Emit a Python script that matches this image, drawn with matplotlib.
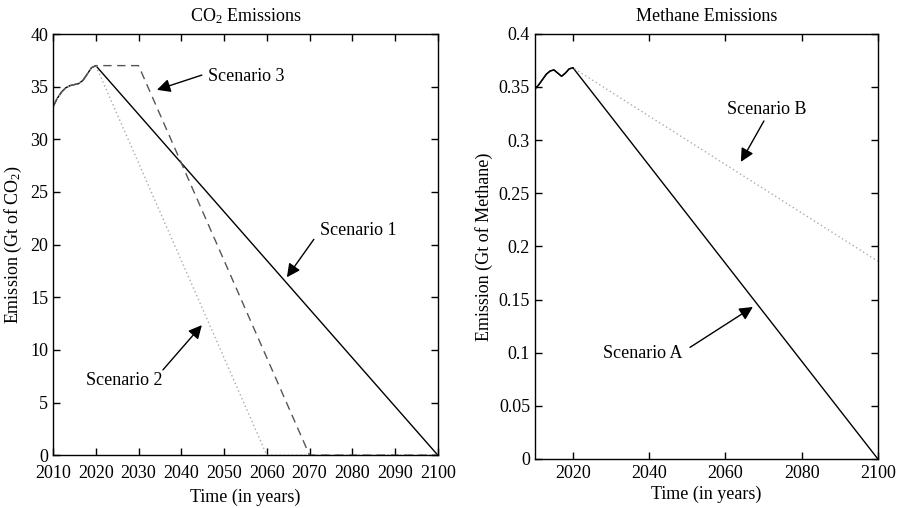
import numpy as np
import matplotlib.pyplot as plt
from matplotlib.ticker import FormatStrFormatter

plt.rcParams['font.family'] = ['Liberation Serif', 'DejaVu Serif']
plt.rcParams['mathtext.fontset'] = 'custom'
plt.rcParams['mathtext.rm'] = 'Liberation Serif'
plt.rcParams['mathtext.it'] = 'Liberation Serif:italic'
plt.rcParams['font.size'] = 13

# historical part (shared by all scenarios)
hist_years = [2010, 2011, 2012, 2013, 2014, 2015, 2016, 2017, 2018, 2019, 2020]
co2_hist = [33.1, 33.9, 34.5, 34.9, 35.1, 35.2, 35.3, 35.6, 36.2, 36.8, 37.0]
ch4_hist = [0.348, 0.352, 0.357, 0.362, 0.365, 0.366, 0.363, 0.360, 0.363, 0.367, 0.368]

# CO2 scenarios after 2020
s1_years, s1_vals = [2100], [0.0]
s2_years, s2_vals = [2060, 2100], [0.0, 0.0]
s3_years, s3_vals = [2030, 2070, 2100], [37.0, 0.0, 0.0]

# methane scenarios after 2020
sa_years, sa_vals = [2100], [0.0]
sb_years, sb_vals = [2100], [0.186]

fig = plt.figure(figsize=(8.99, 5.08), dpi=100)
ax1 = fig.add_axes([0.059, 0.104, 0.428, 0.829])
ax2 = fig.add_axes([0.595, 0.0965, 0.3815, 0.837])

# --- CO2 ---
ax1.plot(hist_years + s1_years, co2_hist + s1_vals, color='black', lw=1.0)
ax1.plot(hist_years + s2_years, co2_hist + s2_vals, color='#aaaaaa', lw=1.0, linestyle=(0, (1, 2)))
ax1.plot(hist_years + s3_years, co2_hist + s3_vals, color='#555555', lw=1.0, linestyle=(0, (6, 4)))

ax1.set_xlim(2010, 2100)
ax1.set_ylim(0, 40)
ax1.set_xticks(np.arange(2010, 2101, 10))
ax1.set_yticks(np.arange(0, 41, 5))
ax1.set_title('CO$_2$ Emissions', fontsize=13, pad=9)
ax1.set_xlabel('Time (in years)', labelpad=5)
ax1.set_ylabel('Emission (Gt of CO$_2$)')

arrow = dict(arrowstyle='-|>', color='black', lw=1.0, mutation_scale=20, shrinkA=0, shrinkB=0)
ax1.annotate('', xy=(2034.3, 34.7), xytext=(2044.8, 36.1), arrowprops=arrow)
ax1.text(2046.2, 36.0, 'Scenario 3', ha='left', va='center')
ax1.annotate('', xy=(2044.8, 12.35), xytext=(2035.7, 8.1), arrowprops=arrow)
ax1.text(2017.7, 7.1, 'Scenario 2', ha='left', va='center')
ax1.annotate('', xy=(2064.7, 16.9), xytext=(2071.0, 20.5), arrowprops=arrow)
ax1.text(2072.4, 21.3, 'Scenario 1', ha='left', va='center')

# --- Methane ---
ax2.plot(hist_years + sa_years, ch4_hist + sa_vals, color='black', lw=1.0)
ax2.plot(hist_years + sb_years, ch4_hist + sb_vals, color='#aaaaaa', lw=1.0, linestyle=(0, (1, 2)))
ax2.plot(hist_years, ch4_hist, color='black', lw=1.0)

ax2.set_xlim(2010, 2100)
ax2.set_ylim(0, 0.4)
ax2.set_xticks(np.arange(2020, 2101, 20))
ax2.set_yticks(np.arange(0, 0.401, 0.05))
ax2.yaxis.set_major_formatter(FormatStrFormatter('%g'))
ax2.set_title('Methane Emissions', fontsize=13, pad=9)
ax2.set_xlabel('Time (in years)', labelpad=3)
ax2.set_ylabel('Emission (Gt of Methane)')

ax2.annotate('', xy=(2067.2, 0.143), xytext=(2050.7, 0.105), arrowprops=arrow)
ax2.text(2027.8, 0.099, 'Scenario A', ha='left', va='center')
ax2.annotate('', xy=(2064.05, 0.2795), xytext=(2070.1, 0.318), arrowprops=arrow)
ax2.text(2060.4, 0.3285, 'Scenario B', ha='left', va='center')

for ax in (ax1, ax2):
    ax.tick_params(direction='in', top=True, right=True, length=5, width=1.0, labelsize=13)
    ax.tick_params(axis='x', pad=7)
    for s in ax.spines.values():
        s.set_linewidth(1.0)
ax2.tick_params(axis='x', pad=4)

fig.savefig('out.png', dpi=100)
